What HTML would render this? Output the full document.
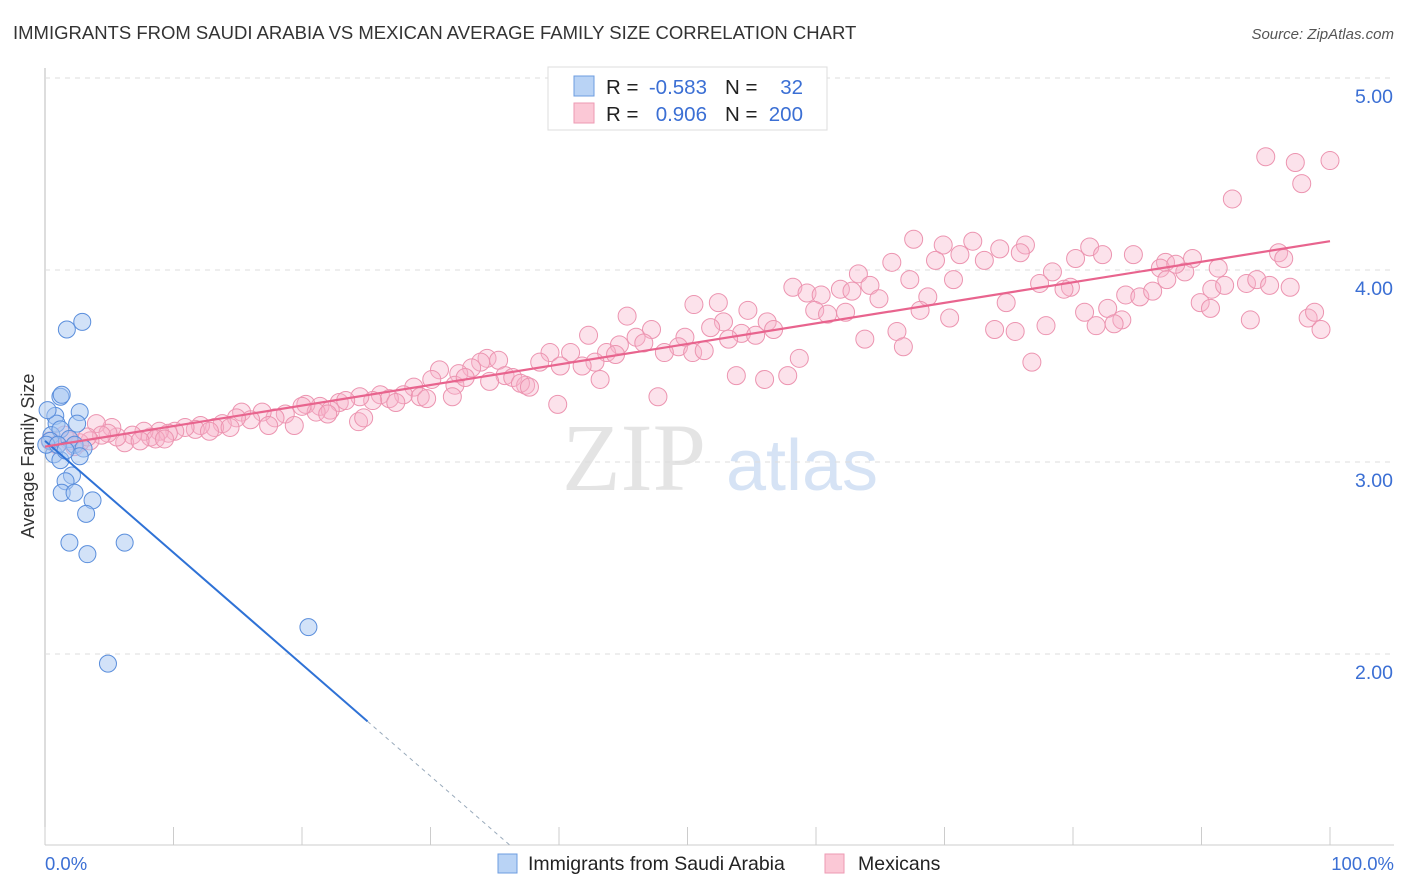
<!DOCTYPE html>
<html><head><meta charset="utf-8">
<style>
body{margin:0;background:#fff;font-family:"Liberation Sans",sans-serif;}
#wrap{position:relative;width:1406px;height:892px;overflow:hidden;}
svg{position:absolute;left:0;top:0;}
</style></head>
<body>
<div id="wrap">
<svg id="chart" width="1406" height="892">
<text x="13" y="39" font-size="18.5" fill="#333">IMMIGRANTS FROM SAUDI ARABIA VS MEXICAN AVERAGE FAMILY SIZE CORRELATION CHART</text>
<text x="1394" y="39" font-size="15" fill="#555" font-style="italic" text-anchor="end">Source: ZipAtlas.com</text>
<text x="634" y="490" font-size="96" fill="#e4e4e4" font-family="Liberation Serif,serif" text-anchor="middle">ZIP</text>
<text x="802" y="490" font-size="72" fill="#d6e3f5" text-anchor="middle">atlas</text>
<text transform="translate(34,456) rotate(-90)" font-size="18" fill="#333" text-anchor="middle">Average Family Size</text>
<g id="grid"></g><g id="pts"></g><g id="lines"></g>
<text x="45" y="870" font-size="18.5" fill="#3b6fd4">0.0%</text>
<text x="1394" y="870" font-size="18.5" fill="#3b6fd4" text-anchor="end">100.0%</text>
<g>
<rect x="548" y="67" width="279" height="63" fill="#fff" stroke="#ddd"/>
<rect x="574" y="76" width="20" height="20" fill="#b9d3f5" stroke="#6d9de0"/>
<rect x="574" y="103" width="20" height="20" fill="#fbc8d6" stroke="#ee9ab3"/>
<text x="606" y="94" font-size="20.5" fill="#222">R =</text>
<text x="707" y="94" font-size="20.5" fill="#3b6fd4" text-anchor="end">-0.583</text>
<text x="725" y="94" font-size="20.5" fill="#222">N =</text>
<text x="803" y="94" font-size="20.5" fill="#3b6fd4" text-anchor="end">32</text>
<text x="606" y="121" font-size="20.5" fill="#222">R =</text>
<text x="707" y="121" font-size="20.5" fill="#3b6fd4" text-anchor="end">0.906</text>
<text x="725" y="121" font-size="20.5" fill="#222">N =</text>
<text x="803" y="121" font-size="20.5" fill="#3b6fd4" text-anchor="end">200</text>
</g>
<g>
<rect x="498" y="854" width="19" height="19" fill="#b9d3f5" stroke="#6d9de0"/>
<text x="528" y="870" font-size="19.5" fill="#222">Immigrants from Saudi Arabia</text>
<rect x="825" y="854" width="19" height="19" fill="#fbc8d6" stroke="#ee9ab3"/>
<text x="858" y="870" font-size="19.5" fill="#222">Mexicans</text>
</g>
</svg>
</div>
<script>
const yTicks=[2,3,4,5];
const yTickLabels=["2.00","3.00","4.00","5.00"];
const xTicks=[0,10,20,30,40,50,60,70,80,90,100];
const blueX=[1.7,2.9,1.2,1.3,0.8,0.9,2.7,2.5,0.5,1.2,1.9,2.3,3.0,0.7,1.2,2.1,2.7,1.6,1.3,2.3,3.7,3.2,1.9,3.3,6.2,4.9,20.5,0.4,0.2,0.1,1.0,1.6];
const blueY=[3.69,3.73,3.34,3.35,3.24,3.20,3.26,3.20,3.14,3.17,3.12,3.09,3.07,3.04,3.01,2.93,3.03,2.90,2.84,2.84,2.80,2.73,2.58,2.52,2.58,1.95,2.14,3.11,3.27,3.09,3.09,3.06];
const pinkX=[95.0,97.3,100,97.8,92.4,67.6,69.9,72.2,74.3,76.3,81.3,84.7,82.3,80.2,87.2,89.3,96.0,96.4,75.9,69.3,71.2,73.1,65.9,63.3,78.4,91.3,86.8,88.7,88.0,67.3,70.7,77.4,79.8,79.3,87.3,90.8,91.8,93.5,94.3,95.3,96.9,58.2,59.3,61.9,60.4,64.2,62.8,64.9,68.7,84.1,85.2,86.2,74.8,89.9,90.7,50.5,52.4,54.7,59.9,60.9,62.3,68.1,70.4,80.9,82.7,83.8,93.8,98.3,98.8,99.3,45.3,52.8,51.8,56.2,56.7,54.2,55.3,53.2,47.2,49.8,73.9,75.5,77.9,81.8,83.2,66.3,63.8,42.3,46.0,46.6,49.3,44.7,43.7,44.4,48.2,50.4,51.3,66.8,58.7,76.8,39.3,40.9,38.5,40.1,42.8,41.8,34.4,35.3,33.9,33.2,30.7,32.2,35.8,36.4,37.4,37.0,37.7,34.6,31.9,32.7,30.1,43.2,53.8,56.0,57.8,28.7,27.9,26.1,26.8,25.5,24.5,29.2,29.7,31.7,27.3,22.9,23.4,39.9,47.7,21.4,20.3,22.2,21.1,20.0,18.7,17.9,16.9,15.3,16.0,17.4,14.9,19.4,22.0,24.4,24.8,13.8,13.2,12.1,11.7,10.9,12.8,14.4,10.1,9.6,8.9,8.2,7.7,8.6,9.3,6.8,6.2,5.6,5.2,4.0,4.9,4.4,3.5,2.7,1.9,1.5,0.9,0.4,2.3,3.3,7.4];
const pinkY=[4.59,4.56,4.57,4.45,4.37,4.16,4.13,4.15,4.11,4.13,4.12,4.08,4.08,4.06,4.04,4.06,4.09,4.06,4.09,4.05,4.08,4.05,4.04,3.98,3.99,4.01,4.01,3.99,4.03,3.95,3.95,3.93,3.91,3.90,3.95,3.90,3.92,3.93,3.95,3.92,3.91,3.91,3.88,3.90,3.87,3.92,3.89,3.85,3.86,3.87,3.86,3.89,3.83,3.83,3.80,3.82,3.83,3.79,3.79,3.77,3.78,3.79,3.75,3.78,3.80,3.74,3.74,3.75,3.78,3.69,3.76,3.73,3.70,3.73,3.69,3.67,3.66,3.64,3.69,3.65,3.69,3.68,3.71,3.71,3.72,3.68,3.64,3.66,3.65,3.62,3.60,3.61,3.57,3.56,3.57,3.57,3.58,3.60,3.54,3.52,3.57,3.57,3.52,3.50,3.52,3.50,3.54,3.53,3.52,3.49,3.48,3.46,3.45,3.44,3.40,3.41,3.39,3.42,3.40,3.44,3.43,3.43,3.45,3.43,3.45,3.39,3.35,3.35,3.33,3.32,3.34,3.34,3.33,3.34,3.31,3.31,3.32,3.30,3.34,3.29,3.30,3.27,3.26,3.29,3.25,3.23,3.26,3.26,3.22,3.19,3.23,3.19,3.25,3.21,3.23,3.20,3.18,3.19,3.17,3.18,3.16,3.18,3.16,3.15,3.16,3.13,3.16,3.12,3.12,3.14,3.10,3.13,3.18,3.20,3.15,3.14,3.11,3.10,3.11,3.14,3.09,3.11,3.08,3.13,3.11];
const blueFit=[3.11,-0.0582];
const pinkFit=[3.08,0.0107];
const blueSolidEnd=25.1;

const X0=45,X1=1330,Y5=78,PX_PER=192;
const sx=v=>X0+(X1-X0)*v/100;
const sy=v=>Y5+(5-v)*PX_PER;
const NS="http://www.w3.org/2000/svg";
function mk(tag,attrs,parent){const e=document.createElementNS(NS,tag);for(const k in attrs)e.setAttribute(k,attrs[k]);parent.appendChild(e);return e;}
const grid=document.getElementById('grid');
mk('line',{x1:45,y1:68,x2:45,y2:845,stroke:'#bbb','stroke-width':1},grid);
mk('line',{x1:45,y1:845,x2:1394,y2:845,stroke:'#ccc','stroke-width':1},grid);
yTicks.forEach((t,i)=>{
  const l=mk('line',{x1:45,y1:sy(t),x2:1394,y2:sy(t),stroke:'#ddd','stroke-dasharray':'5,5'},grid);
  
  
  const tx=mk('text',{x:1393,y:sy(t)+25,'font-size':19.5,fill:'#3b6fd4','text-anchor':'end'},grid);
  tx.textContent=yTickLabels[i];
  
  
});
xTicks.forEach(t=>{
  const l=mk('line',{x1:sx(t),y1:827,x2:sx(t),y2:845,stroke:'#ccc'},grid);
  
  
});
const pts=document.getElementById('pts');
pinkX.forEach((x,i)=>{
  const c=mk('circle',{cx:sx(x),cy:sy(pinkY[i]),r:9,fill:'rgba(248,180,202,0.38)',stroke:'#ec94b0','stroke-width':1},pts);
  
  
});
blueX.forEach((x,i)=>{
  const c=mk('circle',{cx:sx(x),cy:sy(blueY[i]),r:8.5,fill:'rgba(165,198,242,0.5)',stroke:'#5a8edc','stroke-width':1},pts);
  
  
});
const lines=document.getElementById('lines');
const bf=x=>blueFit[0]+blueFit[1]*x, pf=x=>pinkFit[0]+pinkFit[1]*x;
let l1=mk('line',{x1:sx(0),y1:sy(bf(0)),x2:sx(blueSolidEnd),y2:sy(bf(blueSolidEnd)),stroke:'#2f72d6','stroke-width':2},lines);


const xEnd=(1-blueFit[0])/blueFit[1];
let l2=mk('line',{x1:sx(blueSolidEnd),y1:sy(bf(blueSolidEnd)),x2:sx(xEnd),y2:sy(1),stroke:'#9ab',"stroke-dasharray":'4,4','stroke-width':1},lines);


let l3=mk('line',{x1:sx(0),y1:sy(pf(0)),x2:sx(100),y2:sy(pf(100)),stroke:'#e8648e','stroke-width':2.2},lines);


</script>
</body></html>
